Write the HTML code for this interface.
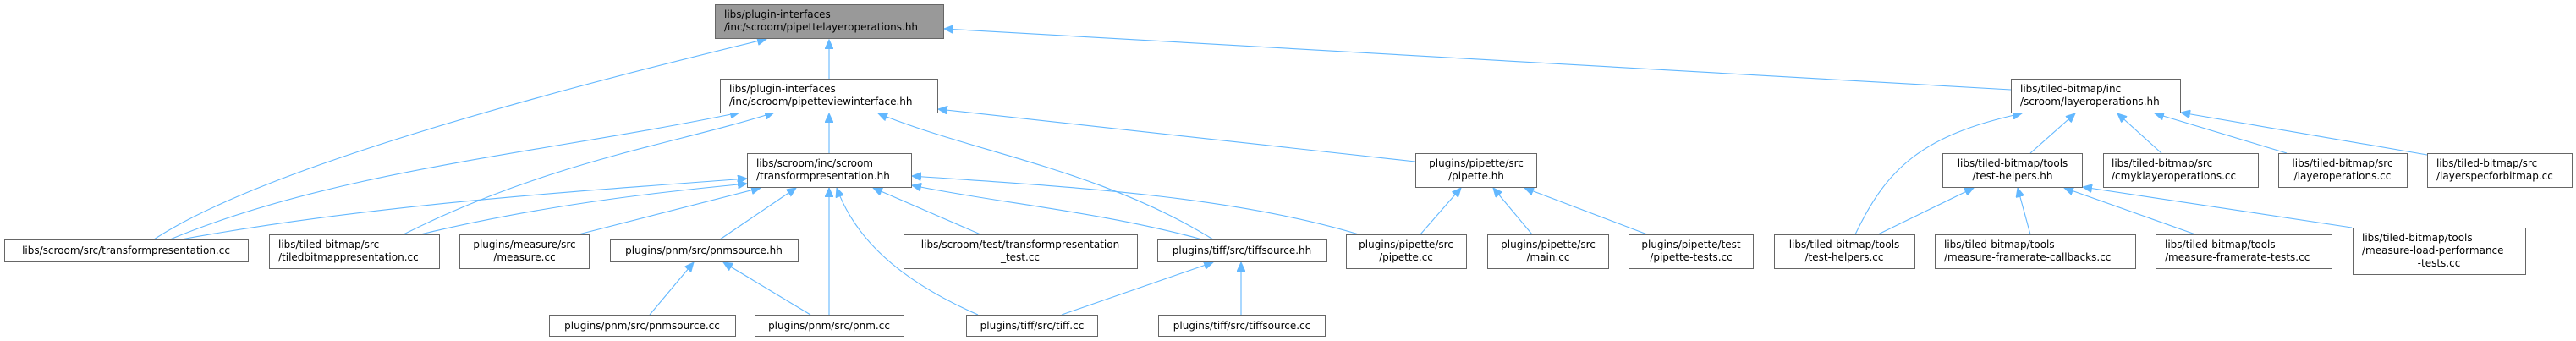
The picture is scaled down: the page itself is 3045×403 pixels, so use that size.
<!DOCTYPE html>
<html><head><meta charset="utf-8"><style>
html,body{margin:0;padding:0;background:#fff;}
svg{display:block;}
text{font-family:"DejaVu Sans","Liberation Sans",sans-serif;font-size:12px;fill:#000;}
.n{fill:#fff;stroke:#666;stroke-width:1;}
.g{fill:#999;stroke:#666;stroke-width:1;}
.e{fill:none;stroke:#63b8ff;stroke-width:1.1;}
</style></head><body>
<svg width="3045" height="403" viewBox="0 0 3045 403" xmlns="http://www.w3.org/2000/svg">
<defs>
<marker id="a" markerUnits="userSpaceOnUse" markerWidth="12" markerHeight="10" refX="11" refY="5" orient="auto">
<path d="M0,0 L11,5 L0,10 Z" fill="#63b8ff" stroke="#63b8ff"/>
</marker>
</defs>
<g>
<path class="e" marker-end="url(#a)" d="M980,93 L980,47"/>
<path class="e" marker-end="url(#a)" d="M182,283 C300,205 600,120 906,46"/>
<path class="e" marker-end="url(#a)" d="M2377,106 L1116,34"/>
<path class="e" marker-end="url(#a)" d="M980,181 L980,134"/>
<path class="e" marker-end="url(#a)" d="M201,283 C400,200 650,180 874,133"/>
<path class="e" marker-end="url(#a)" d="M477,277 C650,190 800,170 915,133"/>
<path class="e" marker-end="url(#a)" d="M1434,283 C1300,200 1150,180 1038,134"/>
<path class="e" marker-end="url(#a)" d="M1673,191 L1109,129"/>
<path class="e" marker-end="url(#a)" d="M214,283 C450,240 700,225 883,211"/>
<path class="e" marker-end="url(#a)" d="M497,277 C650,240 800,225 883,217"/>
<path class="e" marker-end="url(#a)" d="M684,277 L899,222"/>
<path class="e" marker-end="url(#a)" d="M851,283 L941,222"/>
<path class="e" marker-end="url(#a)" d="M980,372 L980,222"/>
<path class="e" marker-end="url(#a)" d="M1156,372 C1060,330 1010,280 989,222"/>
<path class="e" marker-end="url(#a)" d="M1159,277 L1032,222"/>
<path class="e" marker-end="url(#a)" d="M1421,283 C1300,250 1180,240 1078,219"/>
<path class="e" marker-end="url(#a)" d="M1606,277 C1450,230 1250,220 1078,208"/>
<path class="e" marker-end="url(#a)" d="M768,372 L820,310"/>
<path class="e" marker-end="url(#a)" d="M958,372 L855,310"/>
<path class="e" marker-end="url(#a)" d="M1255,372 L1434,310"/>
<path class="e" marker-end="url(#a)" d="M1467,372 L1467,310"/>
<path class="e" marker-end="url(#a)" d="M1679,277 L1727,222"/>
<path class="e" marker-end="url(#a)" d="M1811,277 L1765,222"/>
<path class="e" marker-end="url(#a)" d="M1947,277 L1802,222"/>
<path class="e" marker-end="url(#a)" d="M2400,181 L2453,134"/>
<path class="e" marker-end="url(#a)" d="M2193,277 C2230,200 2270,160 2390,134"/>
<path class="e" marker-end="url(#a)" d="M2555,181 L2503,134"/>
<path class="e" marker-end="url(#a)" d="M2703,181 L2547,134"/>
<path class="e" marker-end="url(#a)" d="M2869,183 L2578,133"/>
<path class="e" marker-end="url(#a)" d="M2220,277 L2333,222"/>
<path class="e" marker-end="url(#a)" d="M2400,277 L2385,222"/>
<path class="e" marker-end="url(#a)" d="M2595,277 L2440,222"/>
<path class="e" marker-end="url(#a)" d="M2780,269 L2462,221"/>
</g>
<g>
<rect class="g" x="845.5" y="5.5" width="270" height="40"/>
<text x="856" y="21">libs/plugin-interfaces</text><text x="856" y="36">/inc/scroom/pipettelayeroperations.hh</text>

<rect class="n" x="851.5" y="93.5" width="257" height="40"/>
<text x="862" y="109">libs/plugin-interfaces</text><text x="862" y="124">/inc/scroom/pipetteviewinterface.hh</text>

<rect class="n" x="2377.5" y="93.5" width="200" height="40"/>
<text x="2388" y="109">libs/tiled-bitmap/inc</text><text x="2388" y="124">/scroom/layeroperations.hh</text>

<rect class="n" x="883.5" y="181.5" width="194" height="40"/>
<text x="894" y="197">libs/scroom/inc/scroom</text><text x="894" y="212">/transformpresentation.hh</text>

<rect class="n" x="1673.5" y="181.5" width="143" height="40"/>
<text x="1745" y="197" text-anchor="middle">plugins/pipette/src</text><text x="1745" y="212" text-anchor="middle">/pipette.hh</text>

<rect class="n" x="2296.5" y="181.5" width="165" height="40"/>
<text x="2379" y="197" text-anchor="middle">libs/tiled-bitmap/tools</text><text x="2379" y="212" text-anchor="middle">/test-helpers.hh</text>

<rect class="n" x="2486.5" y="181.5" width="183" height="40"/>
<text x="2496" y="197">libs/tiled-bitmap/src</text><text x="2496" y="212">/cmyklayeroperations.cc</text>

<rect class="n" x="2693.5" y="181.5" width="152" height="40"/>
<text x="2769" y="197" text-anchor="middle">libs/tiled-bitmap/src</text><text x="2769" y="212" text-anchor="middle">/layeroperations.cc</text>

<rect class="n" x="2869.5" y="181.5" width="171" height="40"/>
<text x="2880" y="197">libs/tiled-bitmap/src</text><text x="2880" y="212">/layerspecforbitmap.cc</text>

<rect class="n" x="5.5" y="283.5" width="288" height="26"/>
<text x="149" y="300" text-anchor="middle">libs/scroom/src/transformpresentation.cc</text>

<rect class="n" x="318.5" y="277.5" width="201" height="40"/>
<text x="329" y="293">libs/tiled-bitmap/src</text><text x="329" y="308">/tiledbitmappresentation.cc</text>

<rect class="n" x="543.5" y="277.5" width="153" height="40"/>
<text x="620" y="293" text-anchor="middle">plugins/measure/src</text><text x="620" y="308" text-anchor="middle">/measure.cc</text>

<rect class="n" x="721.5" y="283.5" width="222" height="26"/>
<text x="832" y="300" text-anchor="middle">plugins/pnm/src/pnmsource.hh</text>

<rect class="n" x="1068.5" y="277.5" width="276" height="40"/>
<text x="1206" y="293" text-anchor="middle">libs/scroom/test/transformpresentation</text><text x="1206" y="308" text-anchor="middle">_test.cc</text>

<rect class="n" x="1368.5" y="283.5" width="200" height="26"/>
<text x="1468" y="300" text-anchor="middle">plugins/tiff/src/tiffsource.hh</text>

<rect class="n" x="1591.5" y="277.5" width="142" height="40"/>
<text x="1662" y="293" text-anchor="middle">plugins/pipette/src</text><text x="1662" y="308" text-anchor="middle">/pipette.cc</text>

<rect class="n" x="1758.5" y="277.5" width="143" height="40"/>
<text x="1830" y="293" text-anchor="middle">plugins/pipette/src</text><text x="1830" y="308" text-anchor="middle">/main.cc</text>

<rect class="n" x="1925.5" y="277.5" width="147" height="40"/>
<text x="1999" y="293" text-anchor="middle">plugins/pipette/test</text><text x="1999" y="308" text-anchor="middle">/pipette-tests.cc</text>

<rect class="n" x="2097.5" y="277.5" width="166" height="40"/>
<text x="2180" y="293" text-anchor="middle">libs/tiled-bitmap/tools</text><text x="2180" y="308" text-anchor="middle">/test-helpers.cc</text>

<rect class="n" x="2287.5" y="277.5" width="237" height="40"/>
<text x="2298" y="293">libs/tiled-bitmap/tools</text><text x="2298" y="308">/measure-framerate-callbacks.cc</text>

<rect class="n" x="2548.5" y="277.5" width="208" height="40"/>
<text x="2559" y="293">libs/tiled-bitmap/tools</text><text x="2559" y="308">/measure-framerate-tests.cc</text>

<rect class="n" x="2781.5" y="269.5" width="204" height="55"/>
<text x="2792" y="285">libs/tiled-bitmap/tools</text><text x="2792" y="300">/measure-load-performance</text><text x="2883" y="315" text-anchor="middle">-tests.cc</text>

<rect class="n" x="649.5" y="372.5" width="220" height="25"/>
<text x="759" y="389" text-anchor="middle">plugins/pnm/src/pnmsource.cc</text>

<rect class="n" x="892.5" y="372.5" width="176" height="25"/>
<text x="980" y="389" text-anchor="middle">plugins/pnm/src/pnm.cc</text>

<rect class="n" x="1142.5" y="372.5" width="155" height="25"/>
<text x="1220" y="389" text-anchor="middle">plugins/tiff/src/tiff.cc</text>

<rect class="n" x="1369.5" y="372.5" width="197" height="25"/>
<text x="1468" y="389" text-anchor="middle">plugins/tiff/src/tiffsource.cc</text>
</g>
</svg>
</body></html>
